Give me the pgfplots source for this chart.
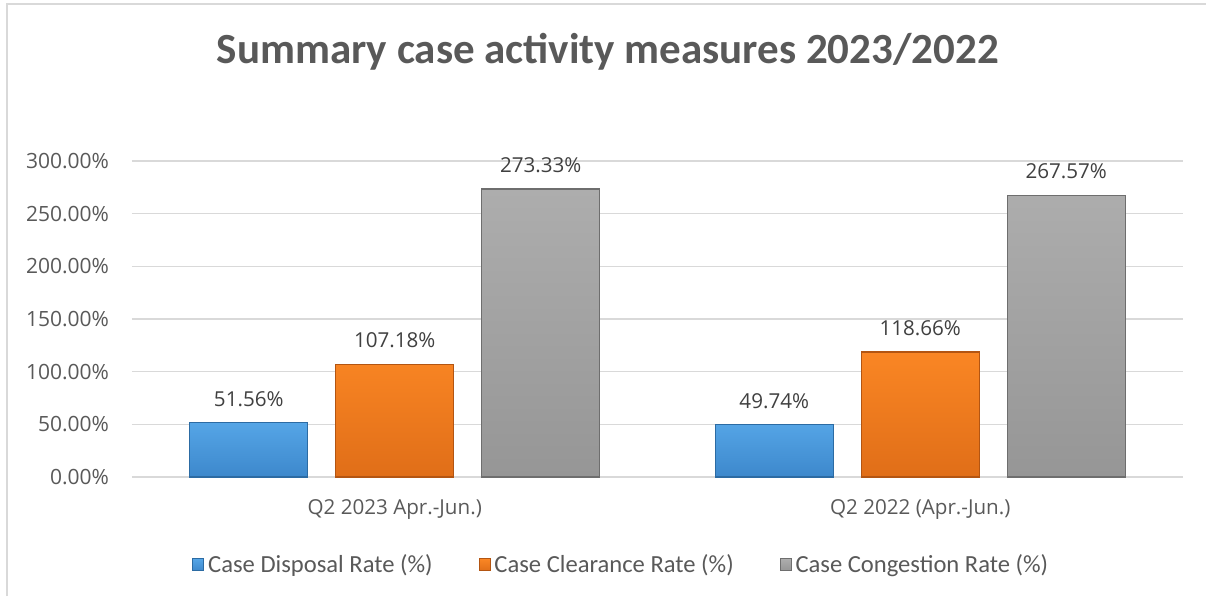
\documentclass[border=0pt]{standalone}
\usepackage{fontspec}
\setmainfont{Carlito}
\newfontfamily\os{Open Sans}
\usepackage{pgfplots}
\pgfplotsset{compat=1.18}
\definecolor{gridc}{HTML}{D9D9D9}
\definecolor{txt}{HTML}{595959}
\definecolor{lab}{HTML}{404040}
\definecolor{blueT}{HTML}{55A5E6}
\definecolor{blueB}{HTML}{3D88CC}
\definecolor{blueE}{HTML}{2C6BA3}
\definecolor{oraT}{HTML}{FA8624}
\definecolor{oraB}{HTML}{E06E18}
\definecolor{oraE}{HTML}{B35512}
\definecolor{grayT}{HTML}{ADADAD}
\definecolor{grayB}{HTML}{969696}
\definecolor{grayE}{HTML}{6E6E6E}
\begin{document}
\begin{tikzpicture}
\path[use as bounding box] (0,0) rectangle (603pt,298pt);
\draw[gridc, line width=1pt] (3.5pt,0) -- (3.5pt,296pt) -- (603pt,296pt);
\node[font=\fontsize{21.5}{24}\selectfont\bfseries, text=txt] at (304pt,272pt) {Summary case activity measures 2023/2022};
\begin{axis}[
  at={(66pt,59.5pt)}, anchor=south west,
  scale only axis, width=525.5pt, height=158pt,
  ybar=14pt, bar width=59pt,
  xmin=-0.5, xmax=1.5, ymin=0, ymax=300,
  xtick={0,1}, xticklabels={Q2 2023 Apr.-Jun.), Q2 2022 (Apr.-Jun.)},
  ytick={0,50,...,300},
  /pgf/number format/assume math mode=true,
  yticklabel={\pgfmathprintnumber[fixed,fixed zerofill,precision=2]{\tick}\%},
  axis line style={draw=none},
  tick style={draw=none}, major tick length=0pt,
  ymajorgrids, grid style={gridc, line width=0.75pt},
  yticklabel style={font=\os\fontsize{10.5}{12}\selectfont, text=txt, xshift=-8pt},
  xticklabel style={font=\os\fontsize{10.3}{12}\selectfont, text=txt, yshift=-7.5pt},
  nodes near coords={\pgfmathprintnumber[fixed,fixed zerofill,precision=2]{\pgfplotspointmeta}\%},
  every node near coord/.append style={font=\os\fontsize{10.3}{12}\selectfont, text=lab, yshift=4.5pt},
  legend columns=3,
  legend style={at={(0.4665,-0.278)}, anchor=center, draw=none, fill=none,
    font=\fontsize{12.3}{14}\selectfont, text=txt,
    /tikz/every even column/.append style={column sep=21pt}},
  legend cell align=left,
  legend image code/.code={\draw[#1, line width=0.4pt] (0pt,-3pt) rectangle (5.5pt,3pt);},
]
\addplot[top color=blueT, bottom color=blueB, draw=blueE, line width=0.6pt] coordinates {(0,51.56) (1,49.74)};
\addplot[top color=oraT, bottom color=oraB, draw=oraE, line width=0.6pt] coordinates {(0,107.18) (1,118.66)};
\addplot[top color=grayT, bottom color=grayB, draw=grayE, line width=0.6pt] coordinates {(0,273.33) (1,267.57)};
\legend{Case Disposal Rate (\%), Case Clearance Rate (\%), Case Congestion Rate (\%)}
\end{axis}
\end{tikzpicture}
\end{document}
